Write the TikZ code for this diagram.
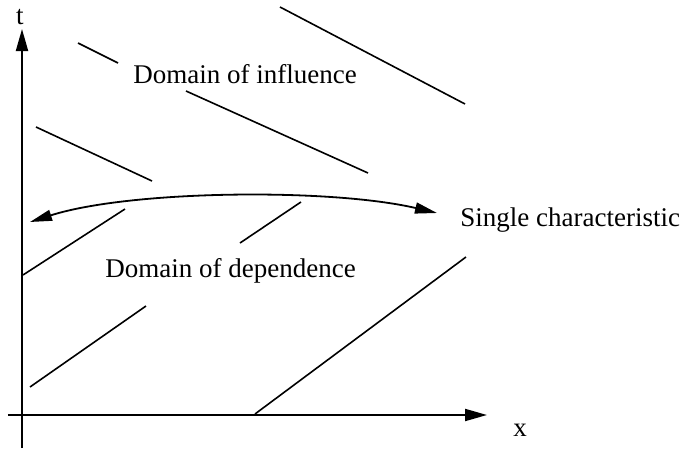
\documentclass[tikz,border=0pt]{standalone}
\usepackage{fontspec}
\setmainfont{Liberation Serif}
\usetikzlibrary{arrows.meta}
\tikzstyle{axis} = [line width=1pt, -{Triangle[length=11pt,width=6pt]}]
\tikzstyle{charline} = [line width=0.8pt]
\tikzstyle{single} = [line width=0.9pt, {Triangle[length=11pt,width=5.5pt]}-{Triangle[length=11pt,width=5.5pt]}]
\tikzstyle{lbl} = [font=\fontsize{13.5}{16}\selectfont, inner sep=0pt]

\begin{document}
\begin{tikzpicture}[x=0.5pt, y=-0.5pt]
  \useasboundingbox (0,0) rectangle (682,450);

  % axes
  \draw [axis] (22,448) -- (22,29);
  \draw [axis] (8,415) -- (487,415);
  \node (t) [lbl] at (20,17) {t};
  \node (x) [lbl] at (520,430) {x};

  % domain of influence
  \draw [charline] (78,43) -- (118,63);
  \draw [charline] (36,127) -- (152,181);
  \draw [charline] (186,91) -- (368,173);
  \draw [charline] (280,7) -- (465,104);
  \node (infl) [lbl, anchor=base west] at (133,83) {Domain of influence};

  % domain of dependence
  \draw [charline] (23,275) -- (125,209);
  \draw [charline] (240,243) -- (301,202);
  \draw [charline] (30,387) -- (146,306);
  \draw [charline] (255,414) -- (466,257);
  \node (dep) [lbl, anchor=base west] at (105,277) {Domain of dependence};

  % single characteristic
  \draw [single] (30,222) .. controls (130,190) and (330,188) .. (437,213);
  \node (sing) [lbl, anchor=base west] at (460,226) {Single characteristic};

\end{tikzpicture}
\end{document}
